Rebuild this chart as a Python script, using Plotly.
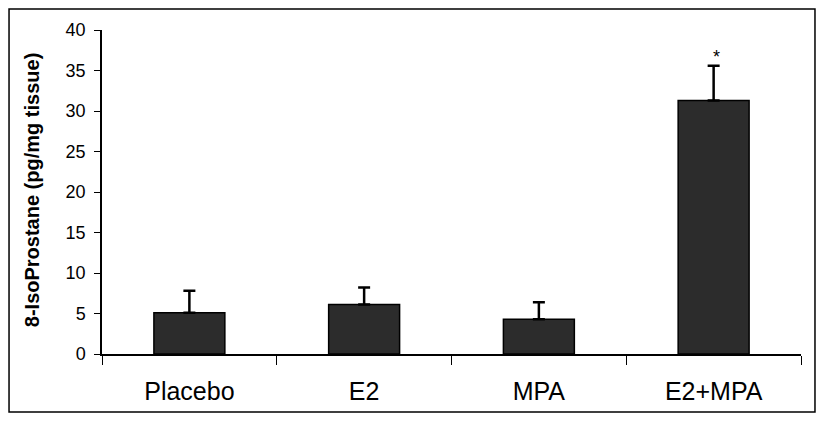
import plotly.graph_objects as go

groups = ["Placebo", "E2", "MPA", "E2+MPA"]
isoprostane = [5.1, 6.1, 4.3, 31.3]
sem = [2.7, 2.1, 2.1, 4.3]
y_ticks = [0, 5, 10, 15, 20, 25, 30, 35, 40]

FONT = "Liberation Sans, Arial, sans-serif"

fig = go.Figure(
    go.Bar(
        x=groups,
        y=isoprostane,
        marker=dict(color="#2c2c2c", line=dict(color="black", width=1.5)),
        error_y=dict(
            type="data",
            symmetric=False,
            array=sem,
            arrayminus=[0] * len(sem),
            color="black",
            thickness=2.5,
            width=6,
        ),
    )
)

# significance mark
fig.add_annotation(
    x="E2+MPA", y=isoprostane[3] + sem[3] + 1.6, text="*", showarrow=False,
    xshift=3, yshift=-4, font=dict(family=FONT, size=18, color="black"), yanchor="middle",
)

# y-axis title
fig.add_annotation(
    xref="paper", yref="paper", x=-0.099, y=0.508, text="<b>8-IsoProstane (pg/mg tissue)</b>",
    textangle=-90, showarrow=False, xanchor="center", yanchor="middle",
    font=dict(family=FONT, size=20, color="black"),
)

# frame around the whole figure
fig.add_shape(
    type="rect", xref="paper", yref="paper",
    x0=-0.133, x1=1.020, y0=-0.179, y1=1.065,
    line=dict(color="black", width=1.5), fillcolor="rgba(0,0,0,0)", layer="below",
)

# page body adds an 8px offset, so the figure is 8px smaller each way
fig.update_layout(
    width=828, height=415,
    margin=dict(l=94, r=35, t=22, b=69),
    paper_bgcolor="white", plot_bgcolor="white",
    bargap=0.594, showlegend=False,
    font=dict(family=FONT, color="black"),
)
fig.update_xaxes(
    showline=True, linecolor="black", linewidth=1.5,
    ticks="outside", tickson="boundaries", ticklen=9, tickcolor="black", tickwidth=1,
    tickfont=dict(size=25), ticklabelstandoff=14, showgrid=False,
)
fig.update_yaxes(
    range=[0, 40], tickvals=y_ticks, showline=True, linecolor="black", linewidth=1.5,
    ticks="outside", ticklen=6, tickcolor="black", tickwidth=1,
    tickfont=dict(size=18), ticklabelstandoff=5, showgrid=False, zeroline=False,
)

fig.write_html("out.html")
